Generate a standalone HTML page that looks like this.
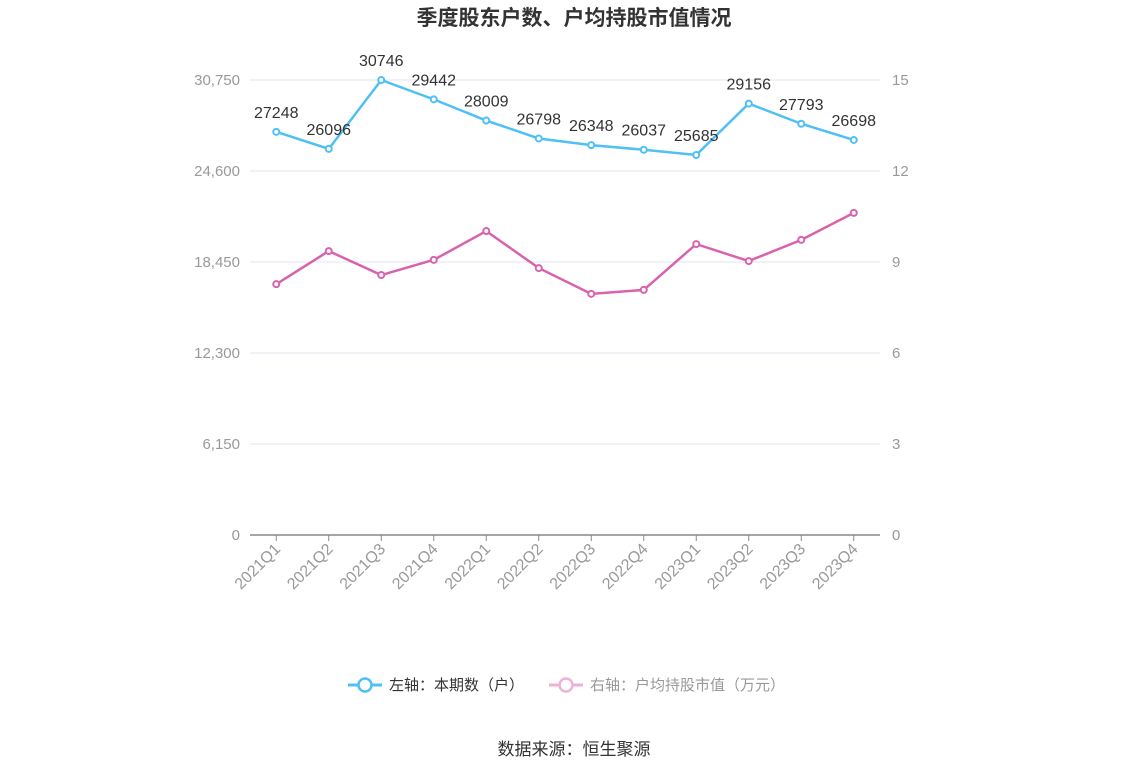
<!DOCTYPE html>
<html><head><meta charset="utf-8"><style>
body{margin:0;background:#fff;}
svg{display:block;font-family:"Liberation Sans","Noto Sans CJK SC",sans-serif;}
</style></head><body>
<svg id="chart" width="1148" height="776" viewBox="0 0 1148 776">
<text x="574" y="25" text-anchor="middle" font-size="21" font-weight="bold" fill="#333">季度股东户数、户均持股市值情况</text>
<g id="grid"></g><g id="axes"></g><g id="series"></g>
<g>
<g>
<line x1="348" y1="685" x2="382" y2="685" stroke="#4fc0f5" stroke-width="3"/>
<circle cx="365" cy="685" r="6.5" fill="#fff" stroke="#4fc0f5" stroke-width="2.5"/>
<text x="389" y="690" font-size="15" fill="#333">左轴：本期数（户）</text></g>
<g>
<line x1="549" y1="685" x2="583" y2="685" stroke="#eeb2d6" stroke-width="3"/>
<circle cx="566" cy="685" r="6.5" fill="#fff" stroke="#eeb2d6" stroke-width="2.5"/>
<text x="590" y="690" font-size="15" fill="#999">右轴：户均持股市值（万元）</text></g>
</g>
<text x="574" y="755" text-anchor="middle" font-size="17" fill="#333">数据来源：恒生聚源</text>
</svg>
<script>
const categories=["2021Q1","2021Q2","2021Q3","2021Q4","2022Q1","2022Q2","2022Q3","2022Q4","2023Q1","2023Q2","2023Q3","2023Q4"];
const households=[27248,26096,30746,29442,28009,26798,26348,26037,25685,29156,27793,26698];
const avgValue=[8.27,9.36,8.57,9.07,10.02,8.80,7.95,8.08,9.59,9.03,9.73,10.62];
const leftTicks=[0,6150,12300,18450,24600,30750];
const rightTicks=[0,3,6,9,12,15];
const NS="http://www.w3.org/2000/svg";
const X0=250,X1=880,Y0=535,Y1=80;
const bw=(X1-X0)/categories.length;
const x=i=>X0+bw*(i+0.5);
const yL=v=>Y0-(v/30750)*(Y0-Y1);
const yR=v=>Y0-(v/15)*(Y0-Y1);
function mk(tag,attrs,parent,text){const e=document.createElementNS(NS,tag);for(const k in attrs)e.setAttribute(k,attrs[k]);if(text!==undefined)e.textContent=text;parent.appendChild(e);return e;}
const grid=document.getElementById('grid'),axes=document.getElementById('axes'),ser=document.getElementById('series');
leftTicks.forEach((t,i)=>{
 const y=yL(t);
 if(i>0){const g=mk('line',{x1:X0,x2:X1,y1:y,y2:y,stroke:'#e0e4f2','stroke-width':1},grid);
 
 }
 const lt=mk('text',{x:240,y:y+5,'text-anchor':'end','font-size':15,fill:'#999'},axes,t.toLocaleString('en-US'));
 
 
});
rightTicks.forEach(t=>{
 const rt=mk('text',{x:892,y:yR(t)+5,'font-size':15,fill:'#999'},axes,String(t));
 
 
});
const ax=mk('line',{x1:X0,x2:X1,y1:Y0,y2:Y0,stroke:'#888','stroke-width':1.5},axes);


categories.forEach((c,i)=>{
 const tk=mk('line',{x1:x(i),x2:x(i),y1:Y0,y2:Y0+6,stroke:'#888'},axes);
 
 
 const tl=mk('text',{x:x(i)+5,y:Y0+15,'text-anchor':'end','font-size':16,fill:'#999',transform:`rotate(-45 ${x(i)+5} ${Y0+15})`},axes,c);
 
 
});
function series(vals,yf,color,name,labels){
 const p=mk('polyline',{points:vals.map((v,i)=>x(i)+','+yf(v)).join(' '),fill:'none',stroke:color,'stroke-width':2.5},ser);
 
 
 vals.forEach((v,i)=>{
  const c=mk('circle',{cx:x(i),cy:yf(v),r:3,fill:'#fff',stroke:color,'stroke-width':2},ser);
  
  
  if(labels){const t=mk('text',{x:x(i),y:yf(v)-14,'text-anchor':'middle','font-size':16,fill:'#333'},ser,String(v));
  
  }
 });
}
series(avgValue,yR,'#d962ad','avg-value',false);
series(households,yL,'#4fc0f5','households',true);
</script>
</body></html>
